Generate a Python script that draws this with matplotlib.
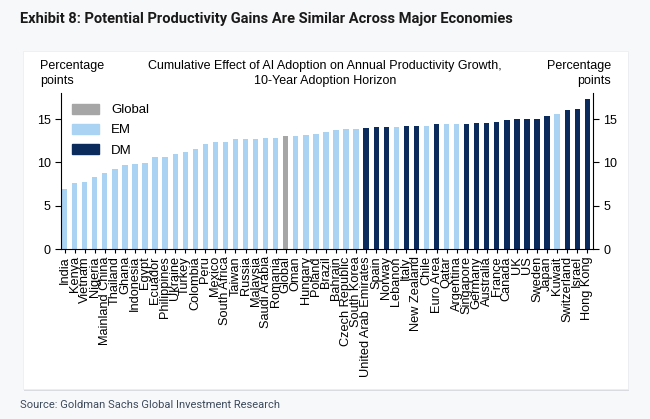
import matplotlib.pyplot as plt
from matplotlib.patches import Rectangle, Patch

# ---------------------------------
# Data
# ---------------------------------
countries = [
    "India", "Kenya", "Vietnam", "Nigeria", "Mainland China", "Thailand", "Ghana",
    "Indonesia", "Egypt", "Ecuador", "Philippines", "Ukraine", "Turkey", "Colombia",
    "Peru", "Mexico", "South Africa", "Taiwan", "Russia", "Malaysia", "Saudi Arabia",
    "Romania", "Global", "Oman", "Hungary", "Poland", "Brazil", "Bahrain",
    "Czech Republic", "South Korea", "United Arab Emirates", "Spain", "Norway",
    "Lebanon", "Italy", "New Zealand", "Chile", "Euro Area", "Qatar", "Argentina",
    "Singapore", "Germany", "Australia", "France", "Canada", "UK", "US", "Sweden",
    "Japan", "Kuwait", "Switzerland", "Israel", "Hong Kong",
]
values = [
    6.9, 7.6, 7.75, 8.3, 8.8, 9.3, 9.7, 9.85, 9.95, 10.65, 10.65, 11.0, 11.25, 11.6,
    12.1, 12.35, 12.35, 12.7, 12.7, 12.72, 12.85, 12.85, 13.0, 13.1, 13.2, 13.3,
    13.55, 13.7, 13.9, 13.9, 13.95, 14.05, 14.05, 14.05, 14.2, 14.2, 14.2, 14.4,
    14.45, 14.45, 14.45, 14.55, 14.55, 14.7, 14.9, 15.0, 15.0, 15.05, 15.3, 15.55,
    16.05, 16.15, 17.35,
]
groups = [
    "EM", "EM", "EM", "EM", "EM", "EM", "EM", "EM", "EM", "EM", "EM", "EM", "EM", "EM",
    "EM", "EM", "EM", "EM", "EM", "EM", "EM", "EM", "Global", "EM", "EM", "EM", "EM",
    "EM", "EM", "EM", "DM", "DM", "DM", "EM", "DM", "DM", "EM", "DM", "EM", "EM",
    "DM", "DM", "DM", "DM", "DM", "DM", "DM", "DM", "DM", "EM", "DM", "DM", "DM",
]
group_colors = {"Global": "#a6a6a6", "EM": "#a9d2f3", "DM": "#0b2b5c"}

# ---------------------------------
# Figure and card background
# ---------------------------------
fig = plt.figure(figsize=(6.5, 4.19), dpi=100)
fig.patch.set_facecolor("#f7f8fa")

shadow = Rectangle((0.037, 0.067), 0.931, 0.807, transform=fig.transFigure,
                   facecolor="#d9dbe0", edgecolor="none", zorder=-2)
card = Rectangle((0.035, 0.071), 0.931, 0.807, transform=fig.transFigure,
                 facecolor="white", edgecolor="#eceef1", linewidth=0.6, zorder=-1)
fig.patches.extend([shadow, card])

title_font = ["Liberation Sans Narrow", "Roboto", "DejaVu Sans"]
fig.text(0.031, 0.955, "Exhibit 8: Potential Productivity Gains Are Similar Across Major Economies",
         fontsize=10.5, fontweight="bold", family=title_font, color="#1a1a1a", va="center")
fig.text(0.031, 0.033, "Source: Goldman Sachs Global Investment Research",
         fontsize=8, family=title_font, color="#3d4a5c", va="center")

# ---------------------------------
# Chart
# ---------------------------------
ax = fig.add_axes([0.094, 0.405, 0.818, 0.373])
ax.set_facecolor("none")
x = list(range(len(countries)))
colors = [group_colors[g] for g in groups]
ax.bar(x, values, width=0.53, color=colors)

ax.set_xlim(-0.35, len(countries) - 0.45)
ax.set_ylim(0, 18)
ax.set_yticks([0, 5, 10, 15])
ax.set_xticks(x)
ax.set_xticklabels(countries, rotation=90, fontsize=9.2, family="Liberation Sans")
ax.tick_params(axis="y", labelsize=9, right=True, labelright=True, length=4,
               width=0.8, direction="out")
for lbl in ax.get_yticklabels():
    lbl.set_family("Liberation Sans")
ax.tick_params(axis="x", length=3, width=0.8, pad=2)
ax.spines["top"].set_visible(False)
for side in ["left", "right", "bottom"]:
    ax.spines[side].set_linewidth(0.8)

handles = [Patch(color=group_colors[g], label=g) for g in ["Global", "EM", "DM"]]
leg = ax.legend(handles=handles, loc="upper left", frameon=False,
                handlelength=2.1, handleheight=0.85, labelspacing=0.55,
                handletextpad=0.9, borderaxespad=0.4,
                prop={"family": "Liberation Sans", "size": 9.5})

fig.text(0.062, 0.825, "Percentage\npoints", fontsize=9, family="Liberation Sans",
         va="center", ha="left", linespacing=1.35)
fig.text(0.94, 0.825, "Percentage\npoints", fontsize=9, family="Liberation Sans",
         va="center", ha="right", multialignment="right", linespacing=1.35)
fig.text(0.5, 0.825, "Cumulative Effect of AI Adoption on Annual Productivity Growth,\n10-Year Adoption Horizon",
         fontsize=9, family="Liberation Sans", va="center", ha="center", linespacing=1.35)

plt.savefig("out.png", dpi=100, facecolor=fig.get_facecolor())
